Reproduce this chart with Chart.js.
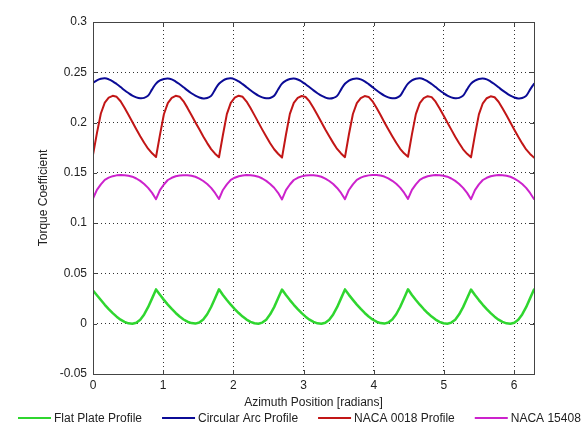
<!DOCTYPE html>
<html>
<head>
<meta charset="utf-8">
<script src="https://cdn.jsdelivr.net/npm/chart.js"></script>
<style>
  html, body { margin: 0; padding: 0; background: #fff; }
</style>
</head>
<body>
<canvas id="myChart" width="584" height="426"></canvas>
<script>
// posição azimutal (radianos)
const azimute = [
  0, 0.056, 0.112, 0.168, 0.224, 0.281, 0.337, 0.393, 0.449, 0.505, 0.561, 0.617, 0.673, 0.729, 0.785, 0.842,
  0.898, 0.954, 1.010, 1.066, 1.122, 1.178, 1.234, 1.290, 1.346, 1.402, 1.458, 1.515, 1.571, 1.627, 1.683, 1.739,
  1.795, 1.851, 1.907, 1.963, 2.020, 2.076, 2.132, 2.188, 2.244, 2.300, 2.356, 2.412, 2.468, 2.524, 2.581, 2.637,
  2.693, 2.749, 2.805, 2.861, 2.917, 2.973, 3.029, 3.085, 3.142, 3.198, 3.254, 3.310, 3.366, 3.422, 3.478, 3.534,
  3.590, 3.646, 3.703, 3.759, 3.815, 3.871, 3.927, 3.983, 4.039, 4.095, 4.151, 4.207, 4.264, 4.320, 4.376, 4.432,
  4.488, 4.544, 4.600, 4.656, 4.712, 4.768, 4.825, 4.881, 4.937, 4.993, 5.049, 5.105, 5.161, 5.217, 5.273, 5.330,
  5.386, 5.442, 5.498, 5.554, 5.610, 5.666, 5.722, 5.778, 5.834, 5.891, 5.947, 6.003, 6.059, 6.115, 6.171, 6.227,
  6.283
];

const flatPlate = [
  0.0330, 0.0283, 0.0235, 0.0188, 0.0145, 0.0105, 0.0070, 0.0040, 0.0018, 0.0004, 0.0000, 0.0010, 0.0039, 0.0092, 0.0164, 0.0252,
  0.0341, 0.0287, 0.0237, 0.0190, 0.0147, 0.0107, 0.0072, 0.0042, 0.0020, 0.0006, 0.0001, 0.0012, 0.0041, 0.0094, 0.0166, 0.0254,
  0.0342, 0.0286, 0.0236, 0.0189, 0.0146, 0.0106, 0.0071, 0.0041, 0.0019, 0.0005, 0.0000, 0.0011, 0.0040, 0.0093, 0.0165, 0.0253,
  0.0340, 0.0285, 0.0235, 0.0188, 0.0145, 0.0105, 0.0070, 0.0040, 0.0018, 0.0004, -0.0001, 0.0010, 0.0039, 0.0092, 0.0164, 0.0252,
  0.0341, 0.0287, 0.0237, 0.0190, 0.0147, 0.0107, 0.0072, 0.0042, 0.0020, 0.0006, 0.0001, 0.0012, 0.0041, 0.0094, 0.0166, 0.0254,
  0.0342, 0.0286, 0.0236, 0.0189, 0.0146, 0.0106, 0.0071, 0.0041, 0.0019, 0.0005, 0.0000, 0.0011, 0.0040, 0.0093, 0.0165, 0.0253,
  0.0340, 0.0285, 0.0235, 0.0188, 0.0145, 0.0105, 0.0070, 0.0040, 0.0018, 0.0004, 0.0000, 0.0010, 0.0039, 0.0092, 0.0164, 0.0252,
  0.0340
];

const circularArc = [
  0.2395, 0.2420, 0.2435, 0.2440, 0.2430, 0.2410, 0.2383, 0.2353, 0.2322, 0.2294, 0.2269, 0.2251, 0.2242, 0.2246, 0.2268, 0.2330,
  0.2388, 0.2419, 0.2434, 0.2439, 0.2429, 0.2408, 0.2381, 0.2351, 0.2320, 0.2292, 0.2267, 0.2249, 0.2240, 0.2244, 0.2266, 0.2328,
  0.2386, 0.2418, 0.2435, 0.2440, 0.2430, 0.2409, 0.2382, 0.2352, 0.2321, 0.2293, 0.2268, 0.2250, 0.2241, 0.2245, 0.2267, 0.2329,
  0.2387, 0.2417, 0.2433, 0.2438, 0.2428, 0.2408, 0.2381, 0.2351, 0.2320, 0.2292, 0.2267, 0.2249, 0.2240, 0.2245, 0.2266, 0.2328,
  0.2386, 0.2418, 0.2434, 0.2439, 0.2429, 0.2409, 0.2382, 0.2352, 0.2321, 0.2293, 0.2268, 0.2250, 0.2241, 0.2245, 0.2267, 0.2329,
  0.2387, 0.2419, 0.2435, 0.2440, 0.2430, 0.2410, 0.2383, 0.2353, 0.2322, 0.2294, 0.2269, 0.2251, 0.2242, 0.2246, 0.2268, 0.2330,
  0.2388, 0.2418, 0.2434, 0.2439, 0.2429, 0.2408, 0.2381, 0.2351, 0.2320, 0.2292, 0.2267, 0.2249, 0.2240, 0.2244, 0.2266, 0.2328,
  0.2386
];

const naca0018 = [
  0.1680, 0.1895, 0.2090, 0.2198, 0.2248, 0.2266, 0.2256, 0.2212, 0.2148, 0.2078, 0.2005, 0.1934, 0.1865, 0.1800, 0.1740, 0.1694,
  0.1658, 0.1878, 0.2083, 0.2194, 0.2246, 0.2266, 0.2257, 0.2211, 0.2146, 0.2076, 0.2004, 0.1933, 0.1862, 0.1796, 0.1736, 0.1691,
  0.1655, 0.1876, 0.2084, 0.2196, 0.2247, 0.2267, 0.2256, 0.2209, 0.2144, 0.2074, 0.2002, 0.1930, 0.1861, 0.1795, 0.1735, 0.1690,
  0.1652, 0.1879, 0.2086, 0.2195, 0.2245, 0.2264, 0.2254, 0.2210, 0.2145, 0.2075, 0.2003, 0.1931, 0.1863, 0.1798, 0.1738, 0.1693,
  0.1656, 0.1881, 0.2085, 0.2194, 0.2244, 0.2264, 0.2255, 0.2211, 0.2147, 0.2077, 0.2004, 0.1933, 0.1864, 0.1799, 0.1739, 0.1694,
  0.1660, 0.1882, 0.2084, 0.2193, 0.2243, 0.2262, 0.2253, 0.2208, 0.2143, 0.2073, 0.2001, 0.1930, 0.1860, 0.1794, 0.1734, 0.1689,
  0.1654, 0.1877, 0.2082, 0.2192, 0.2242, 0.2261, 0.2252, 0.2207, 0.2142, 0.2072, 0.2000, 0.1929, 0.1859, 0.1793, 0.1733, 0.1688,
  0.1652
];

const naca15408 = [
  0.1245, 0.1331, 0.1386, 0.1430, 0.1452, 0.1467, 0.1475, 0.1478, 0.1477, 0.1472, 0.1462, 0.1444, 0.1420, 0.1389, 0.1351, 0.1301,
  0.1238, 0.1329, 0.1384, 0.1429, 0.1451, 0.1466, 0.1474, 0.1477, 0.1476, 0.1471, 0.1461, 0.1443, 0.1419, 0.1389, 0.1351, 0.1300,
  0.1240, 0.1330, 0.1385, 0.1430, 0.1452, 0.1466, 0.1474, 0.1478, 0.1477, 0.1472, 0.1462, 0.1444, 0.1420, 0.1390, 0.1352, 0.1302,
  0.1236, 0.1328, 0.1384, 0.1429, 0.1451, 0.1465, 0.1473, 0.1477, 0.1476, 0.1471, 0.1461, 0.1443, 0.1419, 0.1389, 0.1350, 0.1300,
  0.1239, 0.1330, 0.1386, 0.1431, 0.1453, 0.1467, 0.1475, 0.1479, 0.1478, 0.1473, 0.1463, 0.1445, 0.1421, 0.1391, 0.1353, 0.1303,
  0.1241, 0.1331, 0.1386, 0.1430, 0.1452, 0.1466, 0.1474, 0.1478, 0.1477, 0.1472, 0.1462, 0.1444, 0.1420, 0.1390, 0.1351, 0.1301,
  0.1238, 0.1329, 0.1385, 0.1429, 0.1451, 0.1466, 0.1474, 0.1478, 0.1477, 0.1471, 0.1461, 0.1443, 0.1419, 0.1389, 0.1351, 0.1300,
  0.1240
];

const nomes = ['Flat Plate Profile', 'Circular Arc Profile', 'NACA 0018 Profile', 'NACA 15408'];
const cores = ['#2fd62f', '#0b0b96', '#c21616', '#cc22cc'];
const ticksX = [0, 1, 2, 3, 4, 5, 6];
const ticksY = [-0.05, 0, 0.05, 0.1, 0.15, 0.2, 0.25, 0.3];

const fonte = { family: '"Liberation Sans", Arial, sans-serif', size: 12 };

function pontos(serie) {
    return azimute.map((x, i) => ({ x: x, y: serie[i] }));
}

// moldura, marcas internas e legenda no rodapé
const moldura = {
    id: 'moldura',
    afterDraw(chart) {
        const ctx = chart.ctx;
        const a = chart.chartArea;
        const sx = chart.scales.x, sy = chart.scales.y;
        ctx.save();
        ctx.strokeStyle = '#444';
        ctx.lineWidth = 1;
        ctx.strokeRect(Math.round(a.left) + 0.5, Math.round(a.top) + 0.5,
            Math.round(a.right - a.left), Math.round(a.bottom - a.top));
        ctx.beginPath();
        ticksX.forEach(v => {
            const px = Math.round(sx.getPixelForValue(v)) + 0.5;
            ctx.moveTo(px, a.bottom); ctx.lineTo(px, a.bottom - 4);
            ctx.moveTo(px, a.top); ctx.lineTo(px, a.top + 4);
        });
        ticksY.forEach(v => {
            const py = Math.round(sy.getPixelForValue(v)) + 0.5;
            ctx.moveTo(a.left, py); ctx.lineTo(a.left + 4, py);
            ctx.moveTo(a.right, py); ctx.lineTo(a.right - 4, py);
        });
        ctx.stroke();

        // legenda
        ctx.font = fonte.size + 'px ' + fonte.family;
        ctx.textBaseline = 'middle';
        ctx.fillStyle = '#222';
        let x = 18;
        const y = 418;
        chart.data.datasets.forEach(ds => {
            ctx.strokeStyle = ds.borderColor;
            ctx.lineWidth = 2;
            ctx.beginPath();
            ctx.moveTo(x, y); ctx.lineTo(x + 33, y);
            ctx.stroke();
            x += 36;
            ctx.fillText(ds.label, x, y + 1);
            x += ctx.measureText(ds.label).width + 20;
        });
        ctx.restore();
    }
};

const ctx = document.getElementById('myChart').getContext('2d');
const myChart = new Chart(ctx, {
    type: 'line',
    data: {
        datasets: [
            { label: nomes[0], data: pontos(flatPlate), borderColor: cores[0], borderWidth: 2.5 },
            { label: nomes[1], data: pontos(circularArc), borderColor: cores[1], borderWidth: 2, tension: 0.4 },
            { label: nomes[2], data: pontos(naca0018), borderColor: cores[2], borderWidth: 2 },
            { label: nomes[3], data: pontos(naca15408), borderColor: cores[3], borderWidth: 2 }
        ]
    },
    options: {
        responsive: false,
        animation: false,
        devicePixelRatio: 1,
        elements: {
            point: { radius: 0 },
            line: { tension: 0, borderCapStyle: 'round', borderJoinStyle: 'round' }
        },
        layout: {
            padding: { top: 22, right: 50, bottom: 16, left: 36 }
        },
        plugins: {
            legend: { display: false },
            tooltip: { enabled: false }
        },
        scales: {
            x: {
                type: 'linear',
                min: 0,
                max: 6.2832,
                afterBuildTicks: s => { s.ticks = ticksX.map(v => ({ value: v })); },
                afterFit: s => { s.height = 36; },
                ticks: { color: '#222', font: fonte, padding: 4, maxRotation: 0 },
                grid: { color: '#333', lineWidth: 1, drawTicks: false },
                border: { display: false, dash: [1, 3] },
                title: { display: true, text: 'Azimuth Position [radians]', color: '#222', font: fonte, padding: 0 }
            },
            y: {
                min: -0.05,
                max: 0.3,
                afterBuildTicks: s => { s.ticks = ticksY.map(v => ({ value: v })); },
                afterFit: s => { s.width = 57; },
                ticks: { color: '#222', font: fonte, padding: 6, callback: v => String(v) },
                grid: { color: '#333', lineWidth: 1, drawTicks: false },
                border: { display: false, dash: [1, 3] },
                title: { display: true, text: 'Torque Coefficient', color: '#222', font: fonte, padding: 0 }
            }
        }
    },
    plugins: [moldura]
});
</script>
</body>
</html>
